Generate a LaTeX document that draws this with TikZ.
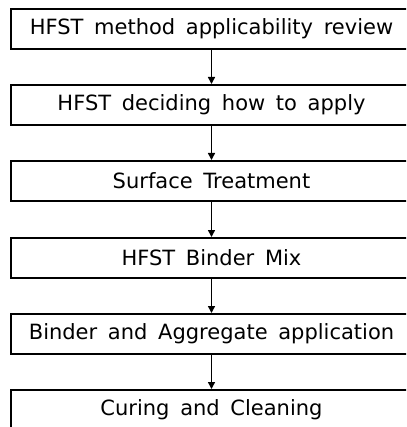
\documentclass[tikz,border=0pt]{standalone}
\usepackage{fontspec}
\setmainfont[WordSpace={1.6}]{DejaVu Sans}
\usetikzlibrary{arrows.meta}
\begin{document}
\begin{tikzpicture}[x=1pt,y=-1pt,
  stepbox/.style={draw=black,line width=1.6pt,minimum width=401pt,minimum height=40pt,inner sep=0pt,anchor=north,font=\fontsize{21}{23}\selectfont},
  flowarrow/.style={draw=black,line width=1.5pt,-{Triangle[length=7pt,width=7pt]}}]
\useasboundingbox (0,0) rectangle (406,427);
\clip (0,0) rectangle (406,427);
\node[stepbox] (b1) at (211.5,8) {HFST method applicability review};
\node[stepbox] (b2) at (211.5,84) {HFST deciding how to apply};
\node[stepbox] (b3) at (211.5,160) {Surface Treatment};
\node[stepbox] (b4) at (211.5,237) {HFST Binder Mix};
\node[stepbox] (b5) at (211.5,313) {Binder and Aggregate application};
\node[stepbox] (b6) at (211.5,389) {Curing and Cleaning};
\draw[flowarrow] (b1.south) -- (b2.north);
\draw[flowarrow] (b2.south) -- (b3.north);
\draw[flowarrow] (b3.south) -- (b4.north);
\draw[flowarrow] (b4.south) -- (b5.north);
\draw[flowarrow] (b5.south) -- (b6.north);
\end{tikzpicture}
\end{document}
